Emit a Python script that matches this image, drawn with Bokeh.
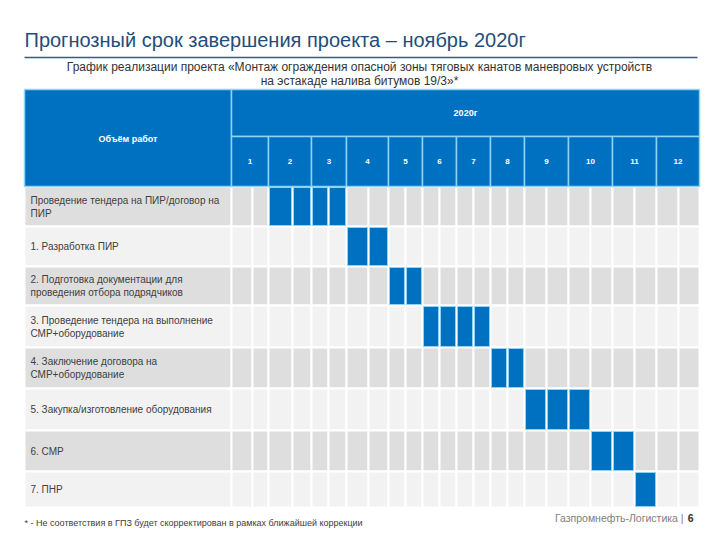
from bokeh.plotting import figure
from bokeh.models import Range1d
from bokeh.embed import file_html
from bokeh.resources import INLINE
from bokeh.core.properties import value

# ---------------- data ----------------
title_text = "Прогнозный срок завершения проекта – ноябрь 2020г"
subtitle_lines = [
    "График реализации проекта «Монтаж ограждения опасной зоны тяговых канатов маневровых устройств",
    "на эстакаде налива битумов 19/3»*",
]
header_label = "Объём работ"
year_label = "2020г"
months = ["1", "2", "3", "4", "5", "6", "7", "8", "9", "10", "11", "12"]
tasks = [
    ["Проведение тендера на ПИР/договор на", "ПИР"],
    ["1. Разработка ПИР"],
    ["2. Подготовка документации для", "проведения отбора подрядчиков"],
    ["3. Проведение тендера на выполнение", "СМР+оборудование"],
    ["4. Заключение договора на", "СМР+оборудование"],
    ["5. Закупка/изготовление оборудования"],
    ["6. СМР"],
    ["7. ПНР"],
]
# start in half-months (0 = first half of January) and duration in half-months
task_start = [2, 6, 8, 10, 14, 16, 19, 21]
task_duration = [4, 2, 2, 4, 2, 3, 2, 1]
footnote = "* - Не соответствия в ГПЗ будет скорректирован в рамках ближайшей коррекции"
footer_company = "Газпромнефть-Логистика"
page_number = "6"

# ---------------- layout (page pixels) ----------------
W, H = 712, 532
TABLE_LEFT = 24
LABEL_RIGHT = 231
HEADER_TOP = 89
HEADER_MID = 136
HEADER_BOTTOM = 186
SUB_W = [21, 16, 24, 19, 17, 18, 22, 20, 17, 17, 17, 17,
         17, 17, 17, 17, 22, 22, 22, 22, 22, 22, 22, 21]
ROW_H = [40, 40, 39, 42, 41, 42, 41, 36]

BLUE = "#0070C0"
LIGHT_BLUE = "#8ED2F4"
GRAY_DARK = "#DEDEDE"
GRAY_LIGHT = "#F2F2F2"
TEXT = "#404040"
FONT = value("Liberation Sans")

sub_edges = [LABEL_RIGHT]
for w in SUB_W:
    sub_edges.append(sub_edges[-1] + w)
TABLE_RIGHT = sub_edges[-1]
row_edges = [HEADER_BOTTOM]
for h in ROW_H:
    row_edges.append(row_edges[-1] + h)

p = figure(width=W, height=H, x_range=Range1d(0, W), y_range=Range1d(H, 0),
           output_backend="svg", toolbar_location=None, min_border=0,
           x_axis_location=None, y_axis_location=None)
p.grid.visible = False
p.outline_line_color = None
p.background_fill_color = "white"
p.border_fill_color = "white"

# title + rule
p.text(x=[TABLE_LEFT], y=[39], text=[title_text], text_font=FONT, text_font_size="20px",
       text_color="#1F4E79", text_align="left", text_baseline="middle")
p.segment(x0=[TABLE_LEFT], y0=[57], x1=[697], y1=[57], line_color="#2B5F8E", line_width=1.5)

# subtitle
p.text(x=[359, 359], y=[66, 80], text=subtitle_lines, text_font=FONT, text_font_size="12px",
       text_color="#333333", text_align="center", text_baseline="middle")

# body cells
bl, br, bt, bb, bc = [], [], [], [], []
for r in range(len(tasks)):
    col = GRAY_DARK if r % 2 == 0 else GRAY_LIGHT
    bl.append(TABLE_LEFT); br.append(LABEL_RIGHT)
    bt.append(row_edges[r]); bb.append(row_edges[r + 1]); bc.append(col)
    for c in range(len(SUB_W)):
        bl.append(sub_edges[c]); br.append(sub_edges[c + 1])
        bt.append(row_edges[r]); bb.append(row_edges[r + 1]); bc.append(col)
p.quad(left=bl, right=br, top=bt, bottom=bb, fill_color=bc, line_color="white", line_width=2)

# filled gantt cells
fl, fr, ft, fb = [], [], [], []
for r, (s, d) in enumerate(zip(task_start, task_duration)):
    for c in range(s, s + d):
        fl.append(sub_edges[c] + 1); fr.append(sub_edges[c + 1] - 1)
        ft.append(row_edges[r] + 1); fb.append(row_edges[r + 1] - 1)
p.quad(left=fl, right=fr, top=ft, bottom=fb, fill_color=BLUE, line_color=LIGHT_BLUE, line_width=1)

# header
month_edges = [sub_edges[2 * i] for i in range(len(months))] + [TABLE_RIGHT]
hl = [TABLE_LEFT, LABEL_RIGHT] + month_edges[:-1]
hr = [LABEL_RIGHT, TABLE_RIGHT] + month_edges[1:]
ht = [HEADER_TOP, HEADER_TOP] + [HEADER_MID] * len(months)
hb = [HEADER_BOTTOM, HEADER_MID] + [HEADER_BOTTOM] * len(months)
p.quad(left=hl, right=hr, top=ht, bottom=hb, fill_color=BLUE, line_color=LIGHT_BLUE, line_width=1.5)

p.text(x=[(TABLE_LEFT + LABEL_RIGHT) / 2], y=[(HEADER_TOP + HEADER_BOTTOM) / 2 + 1],
       text=[header_label], text_font=FONT, text_font_size="9px", text_font_style="bold",
       text_color="white", text_align="center", text_baseline="middle")
p.text(x=[(LABEL_RIGHT + TABLE_RIGHT) / 2], y=[(HEADER_TOP + HEADER_MID) / 2],
       text=[year_label], text_font=FONT, text_font_size="9px", text_font_style="bold",
       text_color="white", text_align="center", text_baseline="middle")
mx = [(month_edges[i] + month_edges[i + 1]) / 2 for i in range(len(months))]
p.text(x=mx, y=[(HEADER_MID + HEADER_BOTTOM) / 2] * len(months), text=months, text_font=FONT,
       text_font_size="8px", text_font_style="bold", text_color="white",
       text_align="center", text_baseline="middle")

# task labels
lx, ly, lt = [], [], []
for r, lines in enumerate(tasks):
    yc = (row_edges[r] + row_edges[r + 1]) / 2
    n = len(lines)
    for i, line in enumerate(lines):
        lx.append(TABLE_LEFT + 6)
        ly.append(yc + (i - (n - 1) / 2) * 13)
        lt.append(line)
p.text(x=lx, y=ly, text=lt, text_font=FONT, text_font_size="10px", text_color=TEXT,
       text_align="left", text_baseline="middle")

# footnote and footer
p.text(x=[TABLE_LEFT], y=[522], text=[footnote], text_font=FONT, text_font_size="9px",
       text_color=TEXT, text_align="left", text_baseline="middle")
p.text(x=[686], y=[517], text=[footer_company + "  |"], text_font=FONT, text_font_size="10.5px",
       text_color="#808080", text_align="right", text_baseline="middle")
p.text(x=[693], y=[517], text=[page_number], text_font=FONT, text_font_size="10.5px",
       text_font_style="bold", text_color="#333333", text_align="right", text_baseline="middle")

open("out.html", "w").write(file_html(p, INLINE))
